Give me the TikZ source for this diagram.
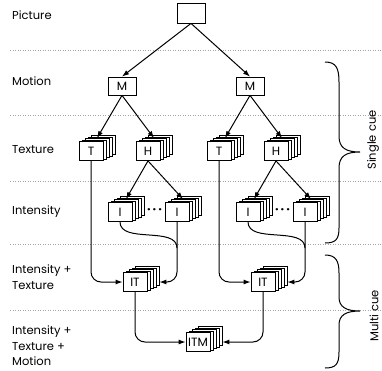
\documentclass[tikz,border=0pt]{standalone}
\usepackage{fontspec}
\setmainfont{Poppins}
\usetikzlibrary{arrows.meta}
\usetikzlibrary{calc}

\tikzset{
  box/.style={draw, fill=white, line width=0.8pt, minimum width=24pt, minimum height=19pt, inner sep=2pt, font=\fontsize{12}{12}\selectfont},
  layer/.style={box},
  lbl/.style={anchor=west, align=left, inner sep=0pt, font=\fontsize{11.5}{15.5}\selectfont},
  sep/.style={gray!70, dotted, line width=0.5pt},
  link/.style={line width=1pt, rounded corners=10pt, -{Latex[length=7pt,width=5pt]}},
  brc/.style={line width=1pt},
  dots/.style={inner sep=0pt, font=\bfseries\fontsize{12}{12}\selectfont},
}

% a box with four copies stacked behind it
\newcommand{\stackbox}[3]{%
  \foreach \k in {4,3,2,1}
    \node[layer] (#1-\k) at ($(#2)+(3*\k,-1.5*\k)$) {\phantom{#3}};
  \node[box] (#1) at (#2) {#3};
}

\begin{document}
\begin{tikzpicture}[x=1pt, y=-1pt]
  \useasboundingbox (0,0) rectangle (382,370);

  \foreach \y in {50,115,181,244,310}
    \draw[sep] (10,\y) -- (382,\y);

  % levels
  \node[lbl] (lpic) at (12,15) {Picture};
  \node[lbl] (lmot) at (12,81) {Motion};
  \node[lbl] (ltex) at (12,150) {Texture};
  \node[lbl] (lint) at (12,212) {Intensity};
  \node[lbl] (lit) at (12,277) {Intensity +\\Texture};
  \node[lbl] (litm) at (12,346) {Intensity +\\Texture +\\Motion};

  \node[box, minimum width=28pt, minimum height=20pt] (pic) at (191,13) {};
  \node[box, minimum width=28pt, minimum height=18pt] (mL) at (122,86) {M};
  \node[box, minimum width=28pt, minimum height=18pt] (mR) at (250,86) {M};

  \stackbox{tL}{91,151}{T}
  \stackbox{hL}{148,151}{H}
  \stackbox{tR}{219,151}{T}
  \stackbox{hR}{276,151}{H}

  \stackbox{iaL}{120,212}{I}
  \stackbox{ibL}{177,212}{I}
  \stackbox{iaR}{248,212}{I}
  \stackbox{ibR}{305,212}{I}

  \stackbox{itL}{135,282}{IT}
  \stackbox{itR}{263,282}{IT}
  \stackbox{itm}{198,342}{ITM}

  \node[dots] (dotsL) at ($(iaL-4.east)!0.5!(ibL.west)+(0,2)$) {·\,·\,·};
  \node[dots] (dotsR) at ($(iaR-4.east)!0.5!(ibR.west)+(0,2)$) {·\,·\,·};

  \draw[link] (pic.south) -- (mL.north);
  \draw[link] (pic.south) -- (mR.north);
  \draw[link] (mL.south) -- (tL-2.north);
  \draw[link] (mL.south) -- (hL-2.north);
  \draw[link] (mR.south) -- (tR-2.north);
  \draw[link] (mR.south) -- (hR-2.north);
  \draw[link] (hL.south) -- (iaL-2.north);
  \draw[link] (hL.south) -- (ibL-2.north);
  \draw[link] (hR.south) -- (iaR-2.north);
  \draw[link] (hR.south) -- (ibR-2.north);

  \coordinate (jL) at (ibL.south |- 0,248);
  \coordinate (jR) at (ibR.south |- 0,248);
  \draw[line width=1pt] (iaL.south) to[out=-90, in=90, looseness=0.9] (jL);
  \draw[line width=1pt] (iaR.south) to[out=-90, in=90, looseness=0.9] (jR);

  \draw[link] (tL.south) |- (itL.west);
  \draw[link] (ibL.south) |- (itL-4.east |- itL);
  \draw[link] (tR.south) |- (itR.west);
  \draw[link] (ibR.south) |- (itR-4.east |- itR);

  \draw[link] (itL.south) |- (itm.west);
  \draw[link] (itR.south) |- (itm-4.east |- itm);

  % braces
  \draw[brc] (325,62) .. controls (336,62) and (339,68) .. (339,82) -- (339,136)
    .. controls (339,148) and (346,152) .. (360,152)
    .. controls (346,152) and (339,156) .. (339,168) -- (339,228)
    .. controls (339,239) and (336,243) .. (325,243);
  \draw[brc] (325,255) .. controls (336,255) and (339,261) .. (339,273) -- (339,297)
    .. controls (339,307) and (346,311) .. (360,311)
    .. controls (346,311) and (339,315) .. (339,325) -- (339,352)
    .. controls (339,364) and (336,368) .. (325,368);
  \node[rotate=90, font=\fontsize{11.5}{12}\selectfont] (single) at (373,140) {Single cue};
  \node[rotate=90, font=\fontsize{11.5}{12}\selectfont] (multi) at (374,316) {Multi cue};
\end{tikzpicture}
\end{document}
